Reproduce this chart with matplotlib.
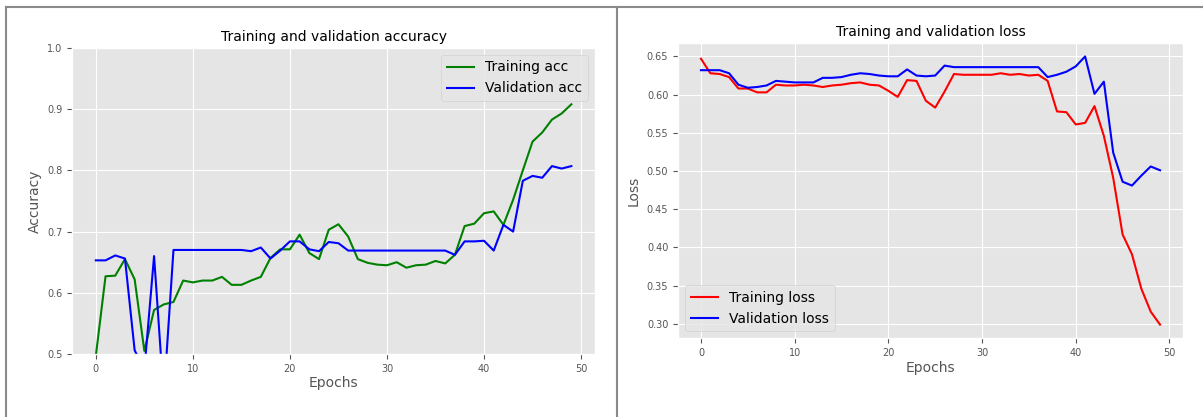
import numpy as np
import matplotlib
matplotlib.use('Agg')
import matplotlib.pyplot as plt
from matplotlib.lines import Line2D

plt.style.use('ggplot')

# data (50 epochs)
epochs = np.arange(50)

train_acc = [0.497, 0.627, 0.628, 0.655, 0.622, 0.505, 0.572, 0.581, 0.585, 0.620,
             0.617, 0.620, 0.620, 0.626, 0.613, 0.613, 0.620, 0.626, 0.657, 0.671,
             0.671, 0.695, 0.665, 0.655, 0.703, 0.712, 0.692, 0.655, 0.649, 0.646,
             0.645, 0.650, 0.641, 0.645, 0.646, 0.652, 0.648, 0.662, 0.709, 0.713,
             0.730, 0.733, 0.711, 0.752, 0.800, 0.847, 0.862, 0.883, 0.893, 0.908]
val_acc = [0.653, 0.653, 0.661, 0.656, 0.506, 0.474, 0.660, 0.430, 0.670, 0.670,
           0.670, 0.670, 0.670, 0.670, 0.670, 0.670, 0.668, 0.674, 0.656, 0.669,
           0.684, 0.684, 0.671, 0.668, 0.683, 0.681, 0.669, 0.669, 0.669, 0.669,
           0.669, 0.669, 0.669, 0.669, 0.669, 0.669, 0.669, 0.662, 0.684, 0.684,
           0.685, 0.669, 0.711, 0.700, 0.783, 0.791, 0.788, 0.807, 0.803, 0.807]

train_loss = [0.647, 0.628, 0.627, 0.623, 0.608, 0.608, 0.603, 0.603, 0.613, 0.612,
              0.612, 0.613, 0.612, 0.610, 0.612, 0.613, 0.615, 0.616, 0.613, 0.612,
              0.605, 0.597, 0.619, 0.618, 0.592, 0.583, 0.604, 0.627, 0.626, 0.626,
              0.626, 0.626, 0.628, 0.626, 0.627, 0.625, 0.626, 0.618, 0.578, 0.577,
              0.561, 0.563, 0.585, 0.546, 0.491, 0.417, 0.391, 0.346, 0.316, 0.299]
val_loss = [0.632, 0.632, 0.632, 0.628, 0.613, 0.609, 0.610, 0.612, 0.618, 0.617,
            0.616, 0.616, 0.616, 0.622, 0.622, 0.623, 0.626, 0.628, 0.627, 0.625,
            0.624, 0.624, 0.633, 0.625, 0.624, 0.625, 0.638, 0.636, 0.636, 0.636,
            0.636, 0.636, 0.636, 0.636, 0.636, 0.636, 0.636, 0.623, 0.626, 0.630,
            0.637, 0.650, 0.601, 0.617, 0.524, 0.486, 0.481, 0.494, 0.506, 0.501]

fig = plt.figure(figsize=(12.03, 4.17), dpi=100)
fig.patch.set_facecolor('white')

# accuracy panel
ax1 = fig.add_axes([0.0599, 0.1511, 0.4348, 0.7338])
ax1.plot(epochs, train_acc, color='g', lw=1.5, label='Training acc')
ax1.plot(epochs, val_acc, color='b', lw=1.5, label='Validation acc')
ax1.set_ylim(0.5, 1.0)
ax1.set_title('Training and validation accuracy', fontsize=10, pad=5)
ax1.set_xlabel('Epochs', fontsize=10, labelpad=2)
ax1.set_ylabel('Accuracy', fontsize=10, labelpad=4)
ax1.tick_params(labelsize=7)
ax1.legend(loc='upper right', fontsize=10)

# loss panel
ax2 = fig.add_axes([0.5636, 0.1894, 0.4198, 0.7074])
ax2.plot(epochs, train_loss, color='r', lw=1.5, label='Training loss')
ax2.plot(epochs, val_loss, color='b', lw=1.5, label='Validation loss')
ax2.set_title('Training and validation loss', fontsize=10, pad=5)
ax2.set_xlabel('Epochs', fontsize=10, labelpad=2)
ax2.set_ylabel('Loss', fontsize=10, labelpad=4)
ax2.tick_params(labelsize=7)
ax2.legend(loc='lower left', fontsize=10)

# screenshot frame lines
frame = dict(color='#8a8a8a', lw=1.5, transform=fig.transFigure)
fig.add_artist(Line2D([6/1203, 1.0], [1 - 7/417, 1 - 7/417], **frame))
fig.add_artist(Line2D([6/1203, 6/1203], [0, 1 - 7/417], **frame))
fig.add_artist(Line2D([617/1203, 617/1203], [0, 1 - 7/417], **frame))

fig.savefig('out.png', dpi=100)
